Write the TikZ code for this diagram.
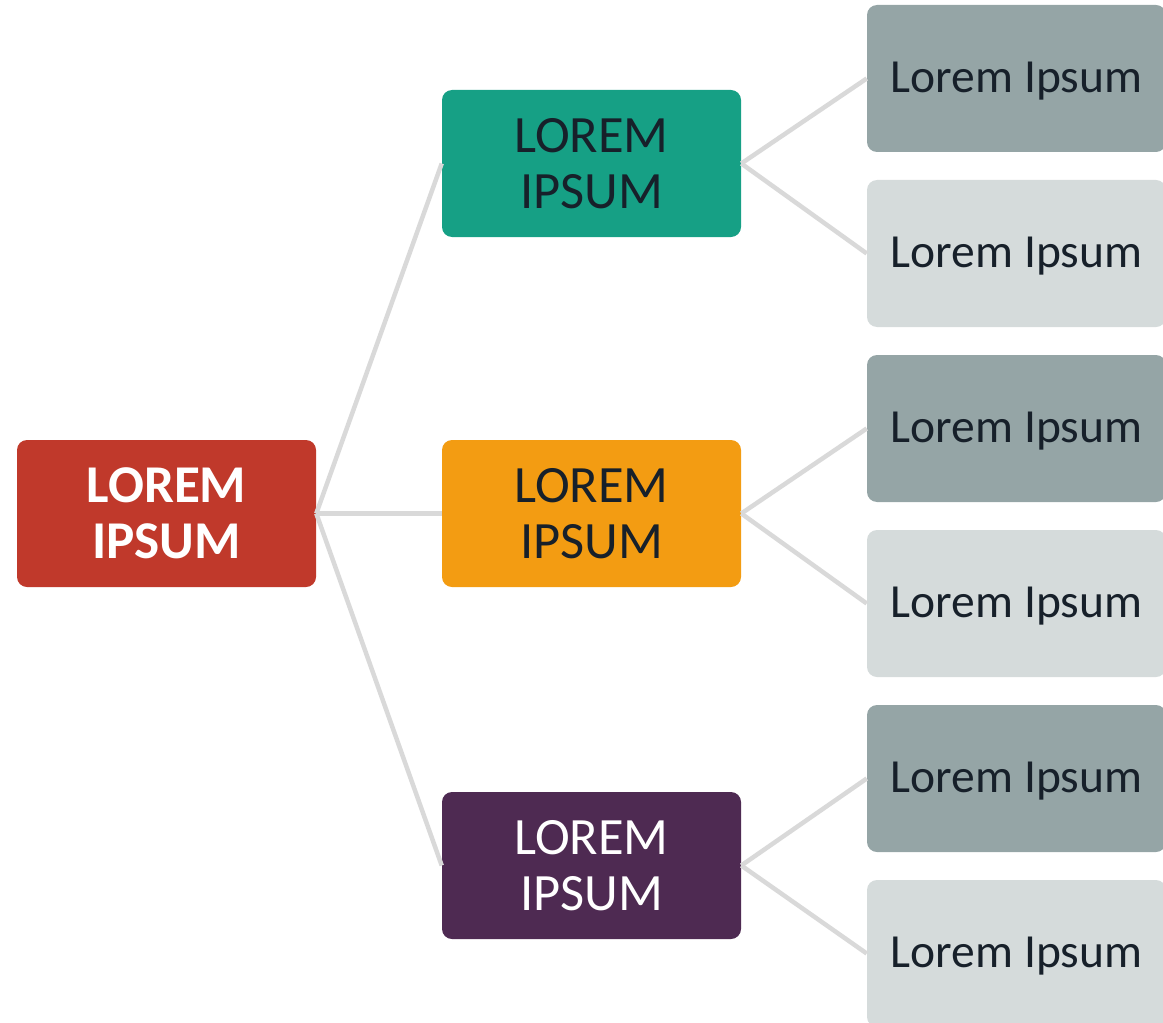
\documentclass[tikz,border=0pt]{standalone}
\usepackage{fontspec}
\setmainfont{Carlito}
\usetikzlibrary{positioning}
\definecolor{rootred}{HTML}{C0392B}
\definecolor{teal}{HTML}{16A085}
\definecolor{orangebox}{HTML}{F39C12}
\definecolor{plum}{HTML}{4E2A52}
\definecolor{darkgray}{HTML}{95A5A6}
\definecolor{lightgray}{HTML}{D5DBDB}
\definecolor{inktext}{HTML}{17202A}
\definecolor{wire}{HTML}{D9D9D9}
\tikzset{
  box/.style={rounded corners=0.25cm, minimum width=7.475cm, minimum height=3.675cm,
    inner sep=0pt, align=center},
  midbox/.style={box, font=\fontsize{37.3}{40}\selectfont},
  leafbox/.style={box, text=inktext, text depth=0.08cm, font=\fontsize{33.8}{40}\selectfont},
  link/.style={wire, line width=3.2pt}
}
\begin{document}
\begin{tikzpicture}
    \useasboundingbox (0,0) rectangle (29.075,-25.55);

    % Root
    \node[box, fill=rootred, text=white, font=\fontsize{37.8}{40}\selectfont\bfseries]
        (root) at (4.1625,-12.8375) {LOREM\\IPSUM};

    % Middle level
    \node[midbox, fill=teal, text=inktext] (mida) at (14.7875,-4.0875) {LOREM\\IPSUM};
    \node[midbox, fill=orangebox, text=inktext] (midb) at (14.7875,-12.8375) {LOREM\\IPSUM};
    \node[midbox, fill=plum, text=white] (midc) at (14.7875,-21.6375) {LOREM\\IPSUM};

    % Leaves
    \node[leafbox, fill=darkgray] (leafa) at (25.4125,-1.9625) {Lorem Ipsum};
    \node[leafbox, fill=lightgray] (leafb) at (25.4125,-6.3375) {Lorem Ipsum};
    \node[leafbox, fill=darkgray] (leafc) at (25.4125,-10.7125) {Lorem Ipsum};
    \node[leafbox, fill=lightgray] (leafd) at (25.4125,-15.0875) {Lorem Ipsum};
    \node[leafbox, fill=darkgray] (leafe) at (25.4125,-19.4625) {Lorem Ipsum};
    \node[leafbox, fill=lightgray] (leaff) at (25.4125,-23.8375) {Lorem Ipsum};

    % Links
    \draw[link] (root.east) -- (mida.west);
    \draw[link] (root.east) -- (midb.west);
    \draw[link] (root.east) -- (midc.west);
    \draw[link] (mida.east) -- (leafa.west);
    \draw[link] (mida.east) -- (leafb.west);
    \draw[link] (midb.east) -- (leafc.west);
    \draw[link] (midb.east) -- (leafd.west);
    \draw[link] (midc.east) -- (leafe.west);
    \draw[link] (midc.east) -- (leaff.west);
\end{tikzpicture}
\end{document}
